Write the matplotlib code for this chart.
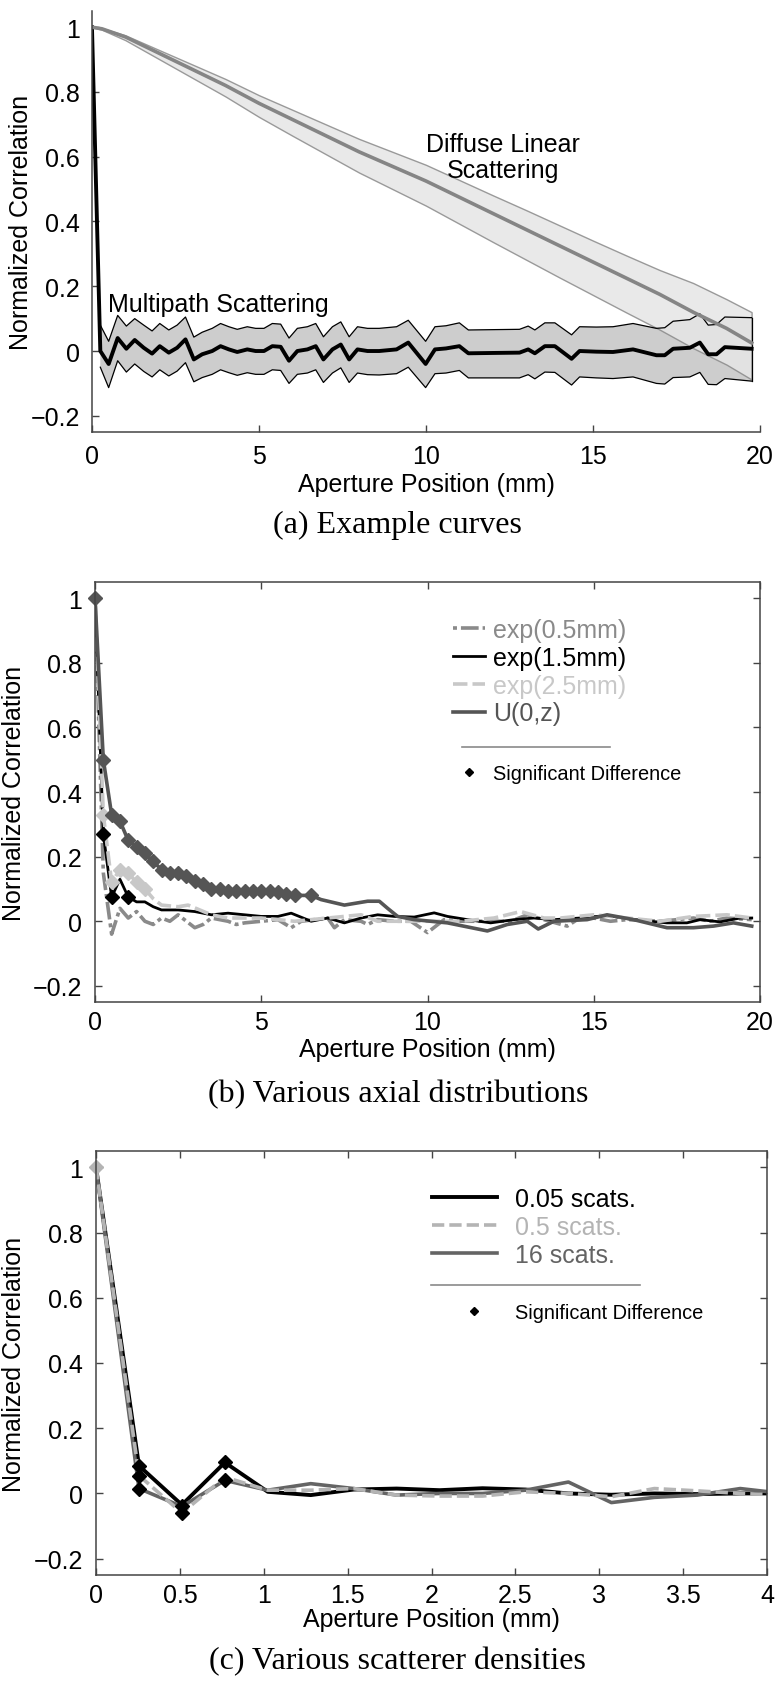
import matplotlib
matplotlib.use('Agg')
import matplotlib.pyplot as plt
from matplotlib.ticker import FuncFormatter
from matplotlib.lines import Line2D

plt.rcParams['font.family'] = ['Liberation Sans', 'DejaVu Sans']

# ---------- (a) Example curves ----------
diff_x = [0, 0.3, 1, 2, 3, 4, 5, 6, 7, 8, 9, 10, 11, 12, 13, 14, 15, 16, 17, 18, 19, 19.75]
diff_mean = [1.0, 0.995, 0.97, 0.92, 0.87, 0.82, 0.765, 0.715, 0.665, 0.615, 0.57, 0.525,
             0.475, 0.425, 0.375, 0.325, 0.275, 0.225, 0.175, 0.12, 0.07, 0.025]
diff_upper = [1.0, 0.997, 0.975, 0.93, 0.885, 0.84, 0.79, 0.745, 0.70, 0.655, 0.615, 0.575,
              0.528, 0.481, 0.435, 0.388, 0.341, 0.295, 0.25, 0.21, 0.16, 0.12]
diff_lower = [1.0, 0.992, 0.96, 0.902, 0.844, 0.786, 0.723, 0.665, 0.608, 0.551, 0.50, 0.449,
              0.393, 0.337, 0.282, 0.227, 0.173, 0.119, 0.066, 0.009, -0.042, -0.088]

mp_x = [0, 0.25, 0.5, 0.77, 1.03, 1.28, 1.55, 1.8, 2.03, 2.3, 2.55, 2.8, 3.05, 3.3, 3.6,
        3.85, 4.1, 4.35, 4.65, 4.9, 5.15, 5.4, 5.65, 5.9, 6.15, 6.45, 6.7, 6.93, 7.2, 7.45,
        7.7, 7.95, 8.25, 8.6, 9.12, 9.47, 9.99, 10.27, 10.6, 11.0, 11.27, 12.0, 12.8, 13.06,
        13.26, 13.56, 13.86, 14.36, 14.6, 15.1, 15.6, 16.2, 16.9, 17.15, 17.4, 17.9, 18.2,
        18.45, 18.7, 18.95, 19.75]
mp_mean = [1.0, 0.0, -0.04, 0.04, 0.007, 0.034, 0.01, -0.008, 0.015, -0.005, 0.01, 0.036,
           -0.026, -0.01, 0.0, 0.015, 0.005, -0.003, 0.005, 0.0, 0.0, 0.015, 0.013, -0.03,
           0.0, 0.005, 0.015, -0.026, 0.005, 0.02, -0.026, 0.005, 0.0, 0.0, 0.005, 0.026,
           -0.04, 0.005, 0.008, 0.015, -0.007, -0.006, -0.005, 0.005, -0.007, 0.015, 0.015,
           -0.024, 0.0, -0.002, -0.003, 0.005, -0.013, -0.013, 0.007, 0.01, 0.026, -0.01,
           -0.01, 0.012, 0.007]
mp_upper = [1.0, 0.08, 0.03, 0.11, 0.077, 0.1, 0.08, 0.062, 0.085, 0.065, 0.08, 0.105,
            0.043, 0.058, 0.07, 0.085, 0.075, 0.067, 0.075, 0.07, 0.07, 0.085, 0.083, 0.04,
            0.07, 0.075, 0.085, 0.044, 0.075, 0.09, 0.044, 0.075, 0.07, 0.07, 0.075, 0.095,
            0.03, 0.075, 0.078, 0.087, 0.065, 0.066, 0.067, 0.077, 0.065, 0.087, 0.087,
            0.05, 0.075, 0.074, 0.075, 0.085, 0.07, 0.072, 0.092, 0.097, 0.115, 0.08,
            0.082, 0.105, 0.103]
mp_lower = [1.0, -0.05, -0.113, -0.03, -0.065, -0.04, -0.063, -0.08, -0.058, -0.077, -0.062,
            -0.036, -0.095, -0.082, -0.072, -0.058, -0.067, -0.075, -0.067, -0.072, -0.072,
            -0.058, -0.06, -0.1, -0.072, -0.068, -0.058, -0.097, -0.068, -0.052, -0.097,
            -0.068, -0.073, -0.074, -0.07, -0.05, -0.113, -0.07, -0.068, -0.06, -0.083,
            -0.083, -0.083, -0.073, -0.086, -0.065, -0.066, -0.105, -0.08, -0.083, -0.085,
            -0.08, -0.1, -0.102, -0.082, -0.08, -0.066, -0.103, -0.104, -0.085, -0.093]

# ---------- (b) Various axial distributions ----------
e05_x = [0, 0.25, 0.5, 0.75, 1.0, 1.25, 1.5, 1.75, 2.0, 2.25, 2.5, 3.0, 3.25, 3.5, 4.0, 4.25,
         4.5, 5.0, 5.5, 5.9, 6.2, 7.0, 7.2, 7.5, 8.0, 8.2, 8.5, 9.0, 9.5, 10.0, 10.5, 11.0,
         12.0, 12.5, 13.0, 13.5, 14.2, 14.5, 15.0, 15.5, 16.0, 17.0, 18.0, 18.5, 19.0, 19.75]
e05_y = [1.0, 0.15, -0.04, 0.04, 0.01, 0.03, 0.0, -0.01, 0.01, 0.0, 0.02, -0.02, -0.01, 0.01,
         0.0, -0.01, -0.005, 0.0, 0.005, -0.02, 0.0, 0.01, -0.02, 0.005, 0.0, -0.01, 0.005,
         0.0, 0.0, -0.035, 0.005, 0.0, 0.0, 0.0, 0.02, 0.005, -0.015, 0.005, 0.01, 0.0,
         0.005, 0.0, 0.01, 0.0, 0.01, 0.005]
e15_x = [0, 0.25, 0.5, 0.75, 1.0, 1.25, 1.5, 1.75, 2.0, 2.5, 3.0, 3.5, 4.0, 4.5, 5.0, 5.5,
         5.9, 6.5, 7.0, 7.5, 8.0, 8.5, 9.0, 9.6, 10.2, 10.6, 11.2, 11.9, 12.6, 13.2, 13.8,
         14.6, 15.4, 16.2, 17.2, 17.8, 18.2, 18.8, 19.4, 19.75]
e15_y = [1.0, 0.27, 0.075, 0.13, 0.075, 0.06, 0.06, 0.045, 0.035, 0.035, 0.03, 0.02, 0.025,
         0.02, 0.015, 0.015, 0.025, 0.0, 0.01, -0.005, 0.01, 0.02, 0.015, 0.013, 0.026,
         0.015, 0.005, -0.005, 0.005, 0.01, 0.005, 0.01, 0.018, 0.005, -0.005, -0.005,
         0.005, -0.002, 0.01, 0.01]
e25_x = [0, 0.25, 0.5, 0.75, 1.0, 1.25, 1.5, 1.75, 2.0, 2.5, 2.8, 3.5, 4.0, 5.0, 6.0, 7.0,
         8.0, 8.5, 9.0, 10.0, 11.0, 12.0, 12.8, 13.5, 14.0, 15.0, 16.0, 17.0, 18.0, 19.0, 19.75]
e25_y = [1.0, 0.33, 0.12, 0.16, 0.15, 0.12, 0.1, 0.07, 0.05, 0.045, 0.05, 0.02, 0.01, 0.01,
         0.0, 0.01, 0.02, 0.0, 0.0, 0.0, 0.0, 0.01, 0.03, 0.01, 0.01, 0.02, 0.01, 0.0, 0.015,
         0.02, 0.01]
u_x = [0, 0.25, 0.5, 0.75, 1.0, 1.25, 1.5, 1.75, 2.0, 2.25, 2.5, 2.75, 3.0, 3.25, 3.5, 3.75,
       4.0, 4.25, 4.5, 4.75, 5.0, 5.25, 5.5, 5.75, 6.0, 6.25, 6.5, 6.8, 7.5, 8.2, 8.55, 8.8,
       9.1, 9.6, 10.6, 11.8, 12.4, 13.0, 13.33, 13.8, 14.8, 15.4, 16.2, 17.2, 18.0, 18.6,
       19.2, 19.75]
u_y = [1.0, 0.5, 0.33, 0.31, 0.25, 0.23, 0.21, 0.185, 0.16, 0.15, 0.15, 0.14, 0.125, 0.115,
       0.1, 0.1, 0.095, 0.095, 0.095, 0.095, 0.095, 0.095, 0.09, 0.085, 0.08, 0.08, 0.08,
       0.067, 0.05, 0.062, 0.062, 0.04, 0.015, 0.005, -0.005, -0.03, -0.01, 0.0, -0.024, 0.0,
       0.005, 0.02, 0.005, -0.02, -0.02, -0.015, -0.005, -0.015]
# points flagged as significant difference (x positions)
e15_sig = [0.25, 0.5, 1.0]
e25_sig = [0.25, 0.5, 0.75, 1.0, 1.25, 1.5]
u_sig = [0, 0.25, 0.5, 0.75, 1.0, 1.25, 1.5, 1.75, 2.0, 2.25, 2.5, 2.75, 3.0, 3.25, 3.5,
         3.75, 4.0, 4.25, 4.5, 4.75, 5.0, 5.25, 5.5, 5.75, 6.0, 6.5]
b_labels = ['exp(0.5mm)', 'exp(1.5mm)', 'exp(2.5mm)', 'U(0,z)']

# ---------- (c) Various scatterer densities ----------
c_x = [0, 0.256, 0.512, 0.768, 1.024, 1.28, 1.536, 1.792, 2.048, 2.304, 2.56, 2.816, 3.072,
       3.328, 3.584, 3.84, 4.096]
s005_y = [1.0, 0.085, -0.035, 0.095, 0.005, -0.005, 0.012, 0.015, 0.01, 0.016, 0.012, 0.0,
          -0.004, 0.0, -0.002, 0.0, 0.0]
s05_y = [1.0, 0.055, -0.06, 0.05, 0.01, 0.01, 0.015, -0.005, -0.008, -0.008, 0.005, 0.0,
         -0.01, 0.015, 0.008, 0.0, -0.005]
s16_y = [1.0, 0.015, -0.04, 0.04, 0.01, 0.03, 0.015, -0.005, 0.0, 0.0, 0.01, 0.035, -0.028,
         -0.012, -0.005, 0.015, 0.0]
s005_sig = [0.256, 0.768]
s05_sig = [0.256, 0.512]
s16_sig = [0.256, 0.512, 0.768]
c_labels = ['0.05 scats.', '0.5 scats.', '16 scats.']

yticks = [-0.2, 0, 0.2, 0.4, 0.6, 0.8, 1]


def fmt(v, pos):
    return ('%g' % round(v, 6)).replace('-', '\u2212')


def style_axes(ax, xticks, xlim, box, xpad, ypad):
    ax.set_xlim(xlim)
    ax.set_ylim(-0.25, 1.05)
    ax.set_xticks(xticks)
    ax.set_yticks(yticks)
    ax.xaxis.set_major_formatter(FuncFormatter(fmt))
    ax.yaxis.set_major_formatter(FuncFormatter(fmt))
    ax.tick_params(direction='in', length=5, width=1, labelsize=18, color='#444',
                   top=box, right=box)
    ax.tick_params(axis='x', pad=xpad)
    ax.tick_params(axis='y', pad=ypad)
    for side, sp in ax.spines.items():
        sp.set_color('#444')
        sp.set_linewidth(1.1)
        if not box and side in ('top', 'right'):
            sp.set_visible(False)
    ax.set_xlabel('Aperture Position (mm)', fontsize=18)
    ax.set_ylabel('Normalized Correlation', fontsize=18)
    ax.xaxis.label.set_va('center')
    ax.yaxis.label.set_va('center')


def pick(xs, ys, sel):
    return [ys[xs.index(s)] for s in sel]


fig = plt.figure(figsize=(7.8, 16.9), dpi=100)

# ----- panel a -----
ax_a = fig.add_axes([0.1179, 0.7438, 0.8564, 0.2491])
ax_a.fill_between(mp_x[1:], mp_lower[1:], mp_upper[1:], facecolor='#cdcdcd', edgecolor='none')
ax_a.fill_between(diff_x, diff_lower, diff_upper, facecolor='#e6e6e6', edgecolor='#8a8a8a',
                  linewidth=1.0, alpha=0.85)
ax_a.plot(mp_x[1:], mp_upper[1:], color='black', lw=0.9)
ax_a.plot(mp_x[1:], mp_lower[1:], color='black', lw=0.9)
ax_a.plot([mp_x[-1], mp_x[-1]], [mp_lower[-1], mp_upper[-1]], color='black', lw=0.9)
ax_a.plot(mp_x, mp_mean, color='black', lw=2.8)
ax_a.plot(diff_x, diff_mean, color='#858585', lw=2.6)
ax_a.text(0.48, 0.145, 'Multipath Scattering', fontsize=18, va='center', ha='left')
ax_a.text(12.3, 0.6, 'Diffuse Linear\nScattering', fontsize=18, va='center', ha='center',
          linespacing=1.1)
style_axes(ax_a, [0, 5, 10, 15, 20], (0, 20), False, 8.5, 8.5)
ax_a.xaxis.set_label_coords(0.5, -0.1235)
ax_a.yaxis.set_label_coords(-0.1063, 0.5)

# ----- panel b -----
ax_b = fig.add_axes([0.1218, 0.4065, 0.8526, 0.2485])
b_colors = ['#8a8a8a', 'black', '#c8c8c8', '#555555']
l05, = ax_b.plot(e05_x, e05_y, color=b_colors[0], lw=2.6, ls=(0, (1.1, 1.1, 4.9, 1.1)))
l15, = ax_b.plot(e15_x, e15_y, color=b_colors[1], lw=2.0)
l25, = ax_b.plot(e25_x, e25_y, color=b_colors[2], lw=2.6, ls=(0, (4, 1.4)))
lu, = ax_b.plot(u_x, u_y, color=b_colors[3], lw=2.6)
ax_b.plot(e15_sig, pick(e15_x, e15_y, e15_sig), 'D', color='black', ms=7, ls='none',
          clip_on=False)
ax_b.plot(e25_sig, pick(e25_x, e25_y, e25_sig), 'D', color='#c8c8c8', ms=7, ls='none',
          clip_on=False)
ax_b.plot(u_sig, pick(u_x, u_y, u_sig), 'D', color='#555555', ms=7, ls='none',
          clip_on=False)
style_axes(ax_b, [0, 5, 10, 15, 20], (0, 20), True, 5.8, 9.5)
ax_b.xaxis.set_label_coords(0.5, -0.112)
ax_b.yaxis.set_label_coords(-0.1218, 0.5)

leg_b = ax_b.legend([l05, l15, l25, lu], b_labels, loc='upper left',
                    bbox_to_anchor=(0.538, 0.914), frameon=False, fontsize=18,
                    labelcolor=b_colors, handlelength=1.28, handletextpad=0.32,
                    labelspacing=0.15, borderpad=0, borderaxespad=0)
ax_b.add_artist(leg_b)
ax_b.add_line(Line2D([0.552, 0.774], [0.607, 0.607], transform=ax_b.transAxes,
                     color='#8a8a8a', lw=1.2))
sig_b = Line2D([], [], marker='D', color='black', ms=4, ls='none')
ax_b.legend([sig_b], ['Significant Difference'], loc='upper left',
            bbox_to_anchor=(0.538, 0.567), frameon=False, fontsize=14.4,
            handlelength=1.6, handletextpad=0.4, borderpad=0, borderaxespad=0)

# ----- panel c -----
ax_c = fig.add_axes([0.1231, 0.06746, 0.8603, 0.2509])
c_colors = ['black', '#b4b4b4', '#646464']
c005, = ax_c.plot(c_x, s005_y, color=c_colors[0], lw=2.8)
c16, = ax_c.plot(c_x, s16_y, color=c_colors[2], lw=2.6)
c05, = ax_c.plot(c_x, s05_y, color=c_colors[1], lw=2.6, ls=(0, (3.4, 1.4)))
ax_c.plot(c_x[:1], s05_y[:1], 'D', color='#b4b4b4', ms=7, clip_on=False)
ax_c.plot(s005_sig, pick(c_x, s005_y, s005_sig), 'D', color='black', ms=7, ls='none')
ax_c.plot(s05_sig, pick(c_x, s05_y, s05_sig), 'D', color='black', ms=7, ls='none')
ax_c.plot(s16_sig, pick(c_x, s16_y, s16_sig), 'D', color='black', ms=7, ls='none')
style_axes(ax_c, [0, 0.5, 1, 1.5, 2, 2.5, 3, 3.5, 4], (0, 4), True, 5.8, 9.5)
ax_c.xaxis.set_label_coords(0.5, -0.1038)
ax_c.yaxis.set_label_coords(-0.1222, 0.5)

leg_c = ax_c.legend([c005, c05, c16], c_labels, loc='upper left',
                    bbox_to_anchor=(0.5007, 0.915), frameon=False, fontsize=18,
                    labelcolor=c_colors, handlelength=2.6, handletextpad=0.72,
                    labelspacing=0.15, borderpad=0, borderaxespad=0)
ax_c.add_artist(leg_c)
ax_c.add_line(Line2D([0.499, 0.811], [0.684, 0.684], transform=ax_c.transAxes,
                     color='#8a8a8a', lw=1.2))
sig_c = Line2D([], [], marker='D', color='black', ms=4, ls='none')
ax_c.legend([sig_c], ['Significant Difference'], loc='upper left',
            bbox_to_anchor=(0.527, 0.642), frameon=False, fontsize=14.4,
            handlelength=2.4, handletextpad=0.85, borderpad=0, borderaxespad=0)

# captions
cap_font = dict(family=['Liberation Serif', 'DejaVu Serif'], fontsize=23, ha='center',
                va='center')
fig.text(0.51, 1 - 525 / 1690, '(a) Example curves', **cap_font)
fig.text(0.51, 1 - 1095 / 1690, '(b) Various axial distributions', **cap_font)
fig.text(0.51, 1 - 1662 / 1690, '(c) Various scatterer densities', **cap_font)

fig.savefig('out.png', dpi=100, facecolor='white')
